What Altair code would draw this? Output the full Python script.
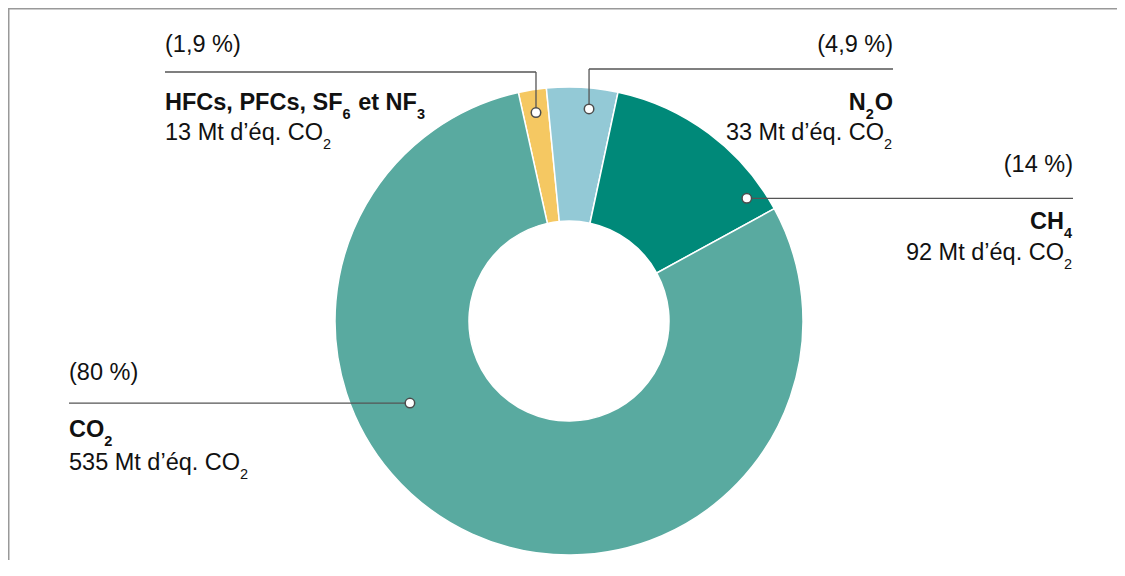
import altair as alt
import pandas as pd
import numpy as np

# ---------------- data ----------------
keys = ["HFC", "N2O", "CH4", "CO2"]
# names as runs of (text, is_subscript)
names = [
    [("HFCs, PFCs, SF", False), ("6", True), (" et NF", False), ("3", True)],
    [("N", False), ("2", True), ("O", False)],
    [("CH", False), ("4", True)],
    [("CO", False), ("2", True)],
]
values = [13, 33, 92, 535]          # Mt d'éq. CO2
pct_labels = ["(1,9 %)", "(4,9 %)", "(14 %)", "(80 %)"]
colors = ["#F5C862", "#93C9D6", "#008979", "#59AAA0"]

value_labels = [[(f"{v} Mt d’éq. CO", False), ("2", True)] for v in values]

# ---------------- layout (pixels, chart coordinates) ----------------
W, H = 1109, 552
CX, CY = 561, 313
R_OUT, R_IN = 234, 100
START = np.deg2rad(-12.5)
FS, FS_SUB, SUB_DY, SUB_GAP = 23.5, 14.5, 9, 1.0

anchor_deg = [-9.0, 5.4, 55.4, 242.7]
anchor_r = [211, 213, 216, 179]
text_x = [157, 885, 1065, 61]
text_align = ["left", "right", "right", "left"]
pct_y = [44, 44, 164, 372]
line_y = [64, 61, None, None]
name_y = [102, 102, 221, 429]
val_y = [132, 132, 252, 462]

# Arial / Liberation Sans advance widths (per 1000 em)
REG = {" ": 278, "M": 833, "t": 278, "d": 556, "’": 222, "é": 556, "q": 556,
       ".": 278, "C": 722, "O": 778, "(": 333, ")": 333, ",": 278, "%": 889, "N": 722, "H": 722}
BOLD = {"H": 722, "F": 611, "C": 722, "s": 556, ",": 278, " ": 278, "P": 667, "S": 667,
        "e": 556, "t": 333, "N": 722, "O": 778}
for dgt in "0123456789":
    REG[dgt] = 556
    BOLD[dgt] = 556


def text_width(s, size, bold):
    table = BOLD if bold else REG
    return sum(table.get(ch, 556) for ch in s) * size / 1000.0


def layout_runs(runs, x, y, align, bold):
    widths = [text_width(t, FS_SUB if sub else FS, bold) + (SUB_GAP if sub else 0)
              for t, sub in runs]
    cur = x if align == "left" else x - sum(widths)
    out = []
    for (t, sub), w in zip(runs, widths):
        size = FS_SUB if sub else FS
        lead = len(t) - len(t.lstrip(" "))
        shift = text_width(" " * lead, size, bold)
        out.append(dict(x=cur + shift, y=y + (SUB_DY if sub else 0), t=t.strip(" "),
                        fs=size, w="bold" if bold else "normal"))
        cur += w
    return out


dots_x = [CX + r * np.sin(np.deg2rad(a)) for a, r in zip(anchor_deg, anchor_r)]
dots_y = [CY - r * np.cos(np.deg2rad(a)) for a, r in zip(anchor_deg, anchor_r)]

df_arc = pd.DataFrame({"key": keys, "value": values, "order": range(len(keys))})
df_dots = pd.DataFrame({"x": dots_x, "y": dots_y})

segs = []
segs.append((text_x[0], line_y[0], dots_x[0], line_y[0]))
segs.append((dots_x[0], line_y[0], dots_x[0], dots_y[0]))
segs.append((dots_x[1], line_y[1], text_x[1], line_y[1]))
segs.append((dots_x[1], line_y[1], dots_x[1], dots_y[1]))
segs.append((dots_x[2], dots_y[2], text_x[2], dots_y[2]))
segs.append((text_x[3], dots_y[3], dots_x[3], dots_y[3]))
df_segs = pd.DataFrame(segs, columns=["x", "y", "x2", "y2"])

rows = []
for i in range(len(keys)):
    rows += layout_runs([(pct_labels[i], False)], text_x[i], pct_y[i], text_align[i], False)
    rows += layout_runs(names[i], text_x[i], name_y[i], text_align[i], True)
    rows += layout_runs(value_labels[i], text_x[i], val_y[i], text_align[i], False)
df_text = pd.DataFrame(rows)

# frame (top + left border), as a polyline
df_frame = pd.DataFrame({"x": [0.75, 0.75, W], "y": [H, 0.75, 0.75], "i": [0, 1, 2]})

xs = alt.Scale(domain=[0, W], range=[0, W], nice=False, zero=False)
ys = alt.Scale(domain=[0, H], range=[0, H], nice=False, zero=False)

arc = alt.Chart(df_arc).mark_arc(
    outerRadius=R_OUT, innerRadius=R_IN, stroke="white", strokeWidth=1.5
).encode(
    theta=alt.Theta("value:Q", stack=True, scale=alt.Scale(range=[START, START + 2 * np.pi])),
    order=alt.Order("order:Q"),
    color=alt.Color("key:N", scale=alt.Scale(domain=keys, range=colors), legend=None),
    x=alt.value(CX),
    y=alt.value(CY),
)

rules = alt.Chart(df_segs).mark_rule(color="#555555", strokeWidth=1.3).encode(
    x=alt.X("x:Q", scale=xs, axis=None),
    y=alt.Y("y:Q", scale=ys, axis=None),
    x2="x2:Q",
    y2="y2:Q",
)

dots = alt.Chart(df_dots).mark_point(
    shape="circle", filled=True, fill="white", stroke="#4d4d4d", strokeWidth=1.5, size=90, opacity=1
).encode(
    x=alt.X("x:Q", scale=xs, axis=None),
    y=alt.Y("y:Q", scale=ys, axis=None),
)

text_layers = []
for wt in ["normal", "bold"]:
    sub = df_text[df_text["w"] == wt]
    text_layers.append(
        alt.Chart(sub).mark_text(
            align="left", baseline="alphabetic", font="Liberation Sans",
            fontWeight=wt, color="#111111"
        ).encode(
            x=alt.X("x:Q", scale=xs, axis=None),
            y=alt.Y("y:Q", scale=ys, axis=None),
            size=alt.Size("fs:Q", scale=None, legend=None),
            text="t:N",
        )
    )

frame = alt.Chart(df_frame).mark_line(color="#999999", strokeWidth=1.5).encode(
    x=alt.X("x:Q", scale=xs, axis=None),
    y=alt.Y("y:Q", scale=ys, axis=None),
    order="i:Q",
)

chart = alt.layer(arc, rules, dots, *text_layers, frame).properties(
    width=W, height=H, padding=0, autosize=alt.AutoSizeParams(type="none")
).configure_view(stroke=None)

chart.save("out.html", embed_options={"renderer": "svg", "actions": False})
